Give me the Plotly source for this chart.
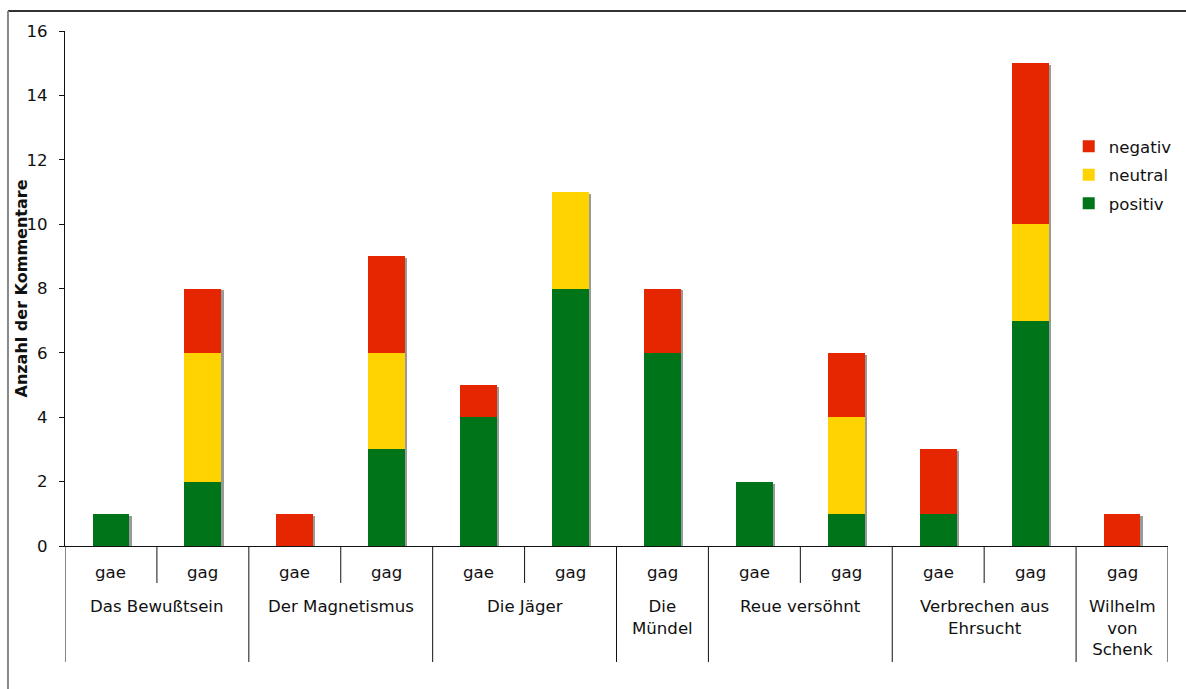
import numpy as np
import plotly.graph_objects as go

# Works and editions shown on the category axis
works = ["Das Bewußtsein", "Der Magnetismus", "Die Jäger", "Die<br>Mündel",
         "Reue versöhnt", "Verbrechen aus<br>Ehrsucht", "Wilhelm<br>von<br>Schenk"]
work_of_bar = [0, 0, 1, 1, 2, 2, 3, 4, 4, 5, 5, 6]
editions = ["gae", "gag", "gae", "gag", "gae", "gag", "gag",
            "gae", "gag", "gae", "gag", "gag"]

# Number of comments per bar
positiv = [1, 2, 0, 3, 4, 8, 6, 2, 1, 1, 7, 0]
neutral = [0, 4, 0, 3, 0, 3, 0, 0, 3, 0, 3, 0]
negativ = [0, 2, 1, 3, 1, 0, 2, 0, 2, 2, 5, 1]

C_POS = "#007419"
C_NEU = "#FFD300"
C_NEG = "#E52600"
C_SHADOW = "#9A9A9A"
FONT = "DejaVu Sans, Verdana, sans-serif"
FS = 16.6

x = np.arange(len(editions))
pos = np.array(positiv, dtype=float)
neu = np.array(neutral, dtype=float)
neg = np.array(negativ, dtype=float)
total = pos + neu + neg

BAR_W = 0.40
fig = go.Figure()

# drop shadow behind each stack, nudged a couple of pixels right and down
fig.add_trace(go.Bar(x=x, y=total - 0.06, base=np.zeros_like(total),
                     width=BAR_W, offset=-BAR_W / 2 + 0.025,
                     marker=dict(color=C_SHADOW, line=dict(width=0)),
                     showlegend=False, hoverinfo="skip"))

fig.add_trace(go.Bar(x=x, y=pos, base=np.zeros_like(pos), name="positiv",
                     width=BAR_W, offset=-BAR_W / 2, legendgroup="c",
                     legendrank=3,
                     marker=dict(color=C_POS, line=dict(width=0))))
fig.add_trace(go.Bar(x=x, y=neu, base=pos, name="neutral",
                     width=BAR_W, offset=-BAR_W / 2, legendgroup="b",
                     legendrank=2,
                     marker=dict(color=C_NEU, line=dict(width=0))))
fig.add_trace(go.Bar(x=x, y=neg, base=pos + neu, name="negativ",
                     width=BAR_W, offset=-BAR_W / 2, legendgroup="a",
                     legendrank=1,
                     marker=dict(color=C_NEG, line=dict(width=0))))

shapes = []
annotations = []

# inner (edition) labels and short dividers inside a work
for i, ed in enumerate(editions):
    annotations.append(dict(x=i, y=-0.0524, xref="x", yref="paper", text=ed,
                            showarrow=False, font=dict(size=FS, color="#111"),
                            xanchor="center", yanchor="middle"))
    if i > 0 and work_of_bar[i] == work_of_bar[i - 1]:
        shapes.append(dict(type="line", xref="x", yref="paper",
                           x0=i - 0.5, x1=i - 0.5, y0=0, y1=-0.0718,
                           line=dict(color="#111", width=1)))

# outer (work) labels and long dividers between works
bounds = [-0.5]
for i in range(1, len(editions)):
    if work_of_bar[i] != work_of_bar[i - 1]:
        bounds.append(i - 0.5)
bounds.append(len(editions) - 0.5)
for b in bounds:
    shapes.append(dict(type="line", xref="x", yref="paper",
                       x0=b, x1=b, y0=0, y1=-0.2252,
                       line=dict(color="#111", width=1)))
for k, w in enumerate(works):
    members = [i for i, g in enumerate(work_of_bar) if g == k]
    annotations.append(dict(x=(members[0] + members[-1]) / 2, y=-0.0945,
                            xref="x", yref="paper", text=w, showarrow=False,
                            font=dict(size=FS, color="#111"),
                            xanchor="center", yanchor="top", align="center"))

# y-axis title
annotations.append(dict(x=-0.039, y=0.5, xref="paper", yref="paper",
                        text="<b>Anzahl der Kommentare</b>", textangle=-90,
                        showarrow=False, font=dict(size=16, color="#111"),
                        xanchor="center", yanchor="middle"))

# frame lines at the top and left of the chart
shapes.append(dict(type="line", xref="paper", yref="paper",
                   x0=-0.0517, x1=1.02, y0=1.0388, y1=1.0388,
                   line=dict(color="#333", width=2)))
shapes.append(dict(type="line", xref="paper", yref="paper",
                   x0=-0.0517, x1=-0.0517, y0=1.0388, y1=-0.29,
                   line=dict(color="#888", width=2)))

fig.update_layout(
    width=1186, height=689,
    margin=dict(l=65, r=18, t=31, b=143, autoexpand=False),
    barmode="overlay",
    paper_bgcolor="white", plot_bgcolor="white",
    font=dict(family=FONT, size=FS, color="#111"),
    showlegend=True,
    legend=dict(x=0.910, y=0.810, xanchor="left", yanchor="top",
                traceorder="grouped", tracegroupgap=4,
                font=dict(size=FS), bgcolor="rgba(0,0,0,0)"),
    shapes=shapes,
    annotations=annotations,
    bargap=0,
)
fig.update_xaxes(range=[-0.5, len(editions) - 0.5], showticklabels=False,
                 ticks="", showgrid=False, zeroline=False,
                 showline=True, linecolor="#111", linewidth=1)
fig.update_yaxes(range=[0, 16], dtick=2, tick0=0, ticks="outside", ticklen=5,
                 tickcolor="#111", showgrid=False, zeroline=False,
                 showline=True, linecolor="#111", linewidth=1,
                 ticklabelstandoff=8, tickfont=dict(size=FS, color="#111"))

fig.write_html("out.html")
